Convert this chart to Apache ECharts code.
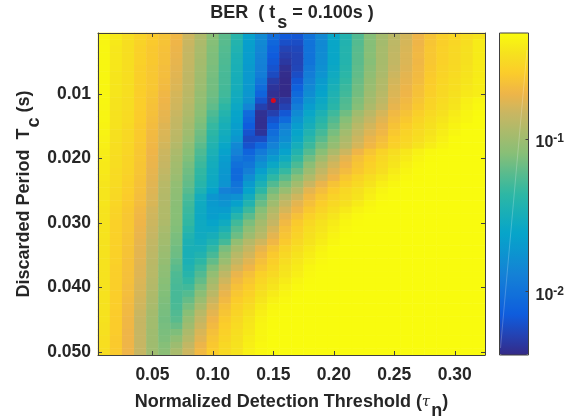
<!DOCTYPE html>
<html>
<head>
<meta charset="utf-8">
<style>html,body{margin:0;padding:0;background:#fff}#c{width:581px;height:417px}</style>
<script src="https://cdn.jsdelivr.net/npm/echarts@6/dist/echarts.min.js"></script>
</head>
<body>
<div id="c"></div>
<script>
// Normalized detection threshold (columns) and discarded period (rows)
const tauValues = ['0.01','0.02','0.03','0.04','0.05','0.06','0.07','0.08','0.09','0.10','0.11','0.12','0.13','0.14','0.15','0.16','0.17','0.18','0.19','0.20','0.21','0.22','0.23','0.24','0.25','0.26','0.27','0.28','0.29','0.30','0.31','0.32'];
const tcValues = ['0.001','0.002','0.003','0.004','0.005','0.006','0.007','0.008','0.009','0.010','0.011','0.012','0.013','0.014','0.015','0.016','0.017','0.018','0.019','0.020','0.021','0.022','0.023','0.024','0.025','0.026','0.027','0.028','0.029','0.030','0.031','0.032','0.033','0.034','0.035','0.036','0.037','0.038','0.039','0.040','0.041','0.042','0.043','0.044','0.045','0.046','0.047','0.048','0.049','0.050'];
const tauTicks = ['0.05','0.10','0.15','0.20','0.25','0.30'];
const tcTicks = ['0.010','0.020','0.030','0.040','0.050'];
const tcTickLabels = ['0.01','0.020','0.030','0.040','0.050'];
const bestTau = '0.15';
const bestTc = '0.011';
const colorbarMin = 0.00385;
const colorbarMax = 0.494;
// BER in dB (10*log10 BER), one array per Tc row
const r01=[-3.4,-4.0,-4.6,-5.3,-5.8,-6.2,-6.9,-8.2,-9.4,-10.9,-12.2,-14.0,-16.5,-18.2,-20.4,-21.6,-21.8,-20.0,-18.3,-16.0,-14.3,-12.5,-11.0,-9.8,-8.9,-8.0,-7.0,-6.2,-5.5,-5.1,-4.7,-4.3];
const r02=[-3.4,-4.0,-4.6,-5.3,-5.8,-6.2,-7.0,-8.3,-9.5,-11.0,-12.3,-14.2,-16.6,-18.3,-20.8,-22.2,-22.3,-20.0,-18.3,-16.0,-14.3,-12.4,-11.0,-9.8,-8.8,-7.9,-7.0,-6.1,-5.5,-5.1,-4.6,-3.9];
const r03=[-3.3,-4.1,-4.6,-5.4,-5.9,-6.3,-7.1,-8.4,-9.6,-11.1,-12.4,-14.4,-16.7,-18.5,-21.2,-22.8,-22.6,-20.0,-18.2,-16.0,-14.2,-12.3,-11.0,-9.7,-8.7,-7.8,-6.9,-6.0,-5.4,-5.0,-4.5,-3.9];
const r04=[-3.3,-4.1,-4.6,-5.4,-5.9,-6.4,-7.2,-8.5,-9.7,-11.2,-12.5,-14.6,-16.8,-18.7,-21.5,-23.1,-22.8,-20.0,-18.1,-16.0,-14.2,-12.2,-10.9,-9.7,-8.6,-7.7,-6.8,-6.0,-5.4,-5.0,-4.5,-3.9];
const r05=[-3.3,-4.1,-4.6,-5.4,-5.9,-6.4,-7.3,-8.5,-9.8,-11.2,-12.6,-14.7,-16.9,-18.9,-21.7,-23.4,-22.8,-20.0,-18.0,-16.0,-14.2,-12.2,-11.0,-9.7,-8.6,-7.7,-6.9,-6.0,-5.4,-5.0,-4.5,-3.9];
const r06=[-3.3,-4.1,-4.6,-5.5,-6.0,-6.5,-7.4,-8.6,-9.9,-11.3,-12.7,-14.8,-17.0,-19.0,-22.0,-23.8,-22.7,-19.6,-17.8,-15.8,-14.0,-12.1,-10.8,-9.6,-8.4,-7.6,-6.8,-5.9,-5.3,-4.9,-4.4,-3.9];
const r07=[-3.3,-4.2,-4.6,-5.5,-6.0,-6.5,-7.5,-8.7,-10.0,-11.4,-12.8,-14.9,-17.1,-19.2,-22.4,-24.0,-22.3,-19.2,-17.5,-15.5,-13.8,-12.0,-10.6,-9.5,-8.2,-7.4,-6.7,-5.8,-5.2,-4.8,-4.3,-3.9];
const r08=[-3.3,-4.2,-4.6,-5.5,-6.0,-6.6,-7.6,-8.7,-10.1,-11.5,-12.8,-15.0,-17.1,-19.7,-23.2,-24.1,-21.8,-18.8,-17.0,-15.2,-13.5,-11.8,-10.4,-9.3,-8.0,-7.3,-6.6,-5.7,-5.1,-4.7,-4.2,-3.8];
const r09=[-3.3,-4.2,-4.6,-5.5,-6.0,-6.7,-7.7,-8.8,-10.2,-11.5,-12.9,-15.1,-17.2,-20.4,-23.6,-24.1,-21.2,-18.4,-16.6,-14.8,-13.2,-11.6,-10.2,-9.2,-7.8,-7.1,-6.4,-5.6,-5.0,-4.6,-4.1,-3.8];
const r10=[-3.3,-4.2,-4.6,-5.6,-6.1,-6.9,-7.9,-8.9,-10.4,-11.6,-13.0,-15.3,-17.3,-21.0,-23.8,-24.1,-20.6,-18.0,-16.3,-14.5,-13.0,-11.5,-10.0,-9.0,-7.7,-7.0,-6.3,-5.5,-5.0,-4.5,-4.0,-3.8];
const r11=[-3.3,-4.3,-4.7,-5.6,-6.2,-7.0,-8.0,-9.0,-10.5,-11.8,-13.3,-15.5,-17.6,-22.0,-23.9,-23.4,-20.0,-17.4,-15.8,-14.2,-12.6,-11.2,-9.8,-8.8,-7.5,-6.8,-6.1,-5.3,-4.8,-4.3,-3.7,-3.3];
const r12=[-3.4,-4.3,-4.7,-5.6,-6.3,-7.1,-8.1,-9.2,-10.7,-12.1,-13.7,-15.8,-18.6,-23.0,-23.9,-22.9,-19.2,-16.8,-15.4,-13.9,-12.4,-11.0,-9.5,-8.5,-7.3,-6.6,-5.9,-5.2,-4.7,-4.2,-3.6,-3.2];
const r13=[-3.4,-4.4,-4.8,-5.7,-6.4,-7.3,-8.3,-9.4,-10.9,-12.6,-14.2,-16.2,-20.5,-23.8,-23.0,-21.8,-18.2,-16.0,-14.6,-13.1,-11.6,-10.0,-8.9,-7.9,-6.8,-6.2,-5.5,-4.9,-4.5,-3.9,-3.4,-3.1];
const r14=[-3.4,-4.4,-4.8,-5.7,-6.5,-7.4,-8.5,-9.6,-11.1,-13.0,-14.6,-16.4,-21.0,-23.9,-22.0,-20.6,-17.5,-15.5,-14.0,-12.5,-11.0,-9.5,-8.4,-7.5,-6.5,-5.9,-5.2,-4.7,-4.2,-3.7,-3.3,-3.0];
const r15=[-3.5,-4.4,-4.9,-5.8,-6.6,-7.6,-8.6,-9.8,-11.3,-13.4,-14.9,-16.7,-21.5,-23.9,-21.2,-19.0,-16.8,-15.0,-13.5,-12.0,-10.5,-9.0,-8.0,-7.2,-6.2,-5.6,-5.0,-4.5,-4.0,-3.5,-3.1,-3.0];
const r16=[-3.5,-4.5,-5.0,-5.8,-6.7,-7.7,-8.8,-10.0,-11.6,-13.7,-15.2,-16.9,-22.0,-23.6,-20.4,-18.4,-16.2,-14.4,-12.9,-11.4,-9.9,-8.6,-7.6,-6.9,-5.9,-5.3,-4.8,-4.3,-3.8,-3.3,-3.0,-3.0];
const r17=[-3.6,-4.5,-5.0,-5.8,-6.8,-7.8,-8.9,-10.2,-11.8,-14.0,-15.5,-17.3,-22.4,-22.3,-19.7,-18.0,-15.8,-13.8,-12.3,-10.9,-9.5,-8.2,-7.2,-6.5,-5.6,-5.1,-4.6,-4.1,-3.6,-3.1,-3.0,-3.0];
const r18=[-3.7,-4.6,-5.1,-5.9,-6.9,-8.0,-9.2,-10.6,-12.2,-14.4,-16.0,-18.4,-22.0,-20.8,-18.8,-17.2,-15.1,-13.2,-11.6,-10.4,-9.1,-7.9,-6.9,-6.2,-5.4,-4.9,-4.3,-3.8,-3.4,-3.1,-3.0,-3.0];
const r19=[-3.8,-4.6,-5.1,-6.0,-7.0,-8.2,-9.5,-10.9,-12.6,-14.7,-16.4,-18.8,-21.0,-19.4,-18.0,-16.4,-14.3,-12.4,-10.9,-9.5,-8.2,-7.0,-6.1,-5.3,-4.7,-4.1,-3.6,-3.2,-3.1,-3.0,-3.0,-3.0];
const r20=[-3.9,-4.7,-5.2,-6.0,-7.1,-8.3,-9.7,-11.1,-12.9,-15.0,-16.8,-19.6,-20.3,-18.5,-17.0,-15.5,-13.5,-11.6,-10.0,-8.6,-7.4,-6.4,-5.7,-5.0,-4.4,-3.9,-3.4,-3.1,-3.0,-3.0,-3.0,-3.0];
const r21=[-4.0,-4.7,-5.2,-6.1,-7.2,-8.4,-9.9,-11.4,-13.2,-15.2,-17.0,-20.2,-19.7,-17.6,-15.9,-14.5,-12.7,-10.8,-9.2,-8.0,-7.0,-6.1,-5.4,-4.8,-4.2,-3.6,-3.2,-3.0,-3.0,-3.0,-3.0,-3.0];
const r22=[-4.0,-4.8,-5.3,-6.1,-7.3,-8.6,-10.0,-11.6,-13.5,-15.4,-17.2,-20.6,-19.0,-16.6,-14.8,-13.4,-11.8,-10.1,-8.6,-7.5,-6.6,-5.9,-5.2,-4.6,-3.9,-3.4,-3.1,-3.0,-3.0,-3.0,-3.0,-3.0];
const r23=[-4.1,-4.8,-5.4,-6.2,-7.4,-8.8,-10.2,-11.8,-13.7,-15.6,-17.3,-20.6,-18.0,-15.6,-13.6,-12.3,-10.9,-9.3,-8.0,-7.0,-6.0,-5.3,-4.7,-4.1,-3.6,-3.2,-3.1,-3.0,-3.0,-3.0,-3.0,-3.0];
const r24=[-4.2,-4.8,-5.5,-6.3,-7.5,-9.0,-10.5,-12.0,-14.0,-15.7,-17.5,-20.0,-17.0,-14.7,-12.5,-11.3,-9.9,-8.3,-7.2,-6.2,-5.5,-4.9,-4.3,-3.7,-3.3,-3.0,-3.0,-3.0,-3.0,-3.0,-3.0,-3.0];
const r25=[-4.2,-4.9,-5.6,-6.4,-7.6,-9.1,-10.6,-12.3,-14.5,-16.3,-18.9,-19.4,-16.3,-13.7,-11.5,-10.3,-9.0,-7.4,-6.5,-5.7,-5.0,-4.5,-3.9,-3.4,-3.1,-3.0,-3.0,-3.0,-3.0,-3.0,-3.0,-3.0];
const r26=[-4.2,-5.0,-5.7,-6.5,-7.7,-9.2,-10.7,-12.7,-15.2,-17.3,-18.0,-17.7,-15.3,-12.6,-10.7,-9.2,-8.1,-6.8,-6.0,-5.3,-4.8,-4.3,-3.7,-3.2,-3.1,-3.0,-3.0,-3.0,-3.0,-3.0,-3.0,-3.0];
const r27=[-4.2,-5.1,-5.8,-6.6,-7.8,-9.2,-10.8,-13.0,-15.5,-17.0,-17.5,-16.5,-14.3,-11.8,-10.0,-8.5,-7.4,-6.4,-5.6,-5.0,-4.5,-3.9,-3.4,-3.1,-3.0,-3.0,-3.0,-3.0,-3.0,-3.0,-3.0,-3.0];
const r28=[-4.3,-5.2,-5.9,-6.8,-8.0,-9.3,-10.9,-13.2,-15.6,-16.8,-16.9,-15.3,-13.2,-11.0,-9.3,-7.9,-6.9,-5.9,-5.2,-4.6,-4.0,-3.5,-3.2,-3.0,-3.0,-3.0,-3.0,-3.0,-3.0,-3.0,-3.0,-3.0];
const r29=[-4.3,-5.3,-6.0,-6.9,-8.1,-9.3,-10.9,-13.4,-15.7,-16.7,-16.2,-14.1,-12.2,-10.4,-8.8,-7.3,-6.3,-5.4,-4.8,-4.2,-3.6,-3.2,-3.0,-3.0,-3.0,-3.0,-3.0,-3.0,-3.0,-3.0,-3.0,-3.0];
const r30=[-4.3,-5.4,-6.0,-7.0,-8.2,-9.4,-11.0,-13.5,-15.6,-16.2,-15.5,-13.0,-11.3,-9.8,-8.4,-6.8,-5.8,-5.0,-4.4,-3.9,-3.3,-3.1,-3.0,-3.0,-3.0,-3.0,-3.0,-3.0,-3.0,-3.0,-3.0,-3.0];
const r31=[-4.3,-5.4,-6.0,-7.1,-8.3,-9.6,-11.1,-13.9,-15.6,-15.7,-14.6,-12.3,-10.7,-9.4,-7.9,-6.4,-5.5,-4.7,-4.2,-3.7,-3.2,-3.0,-3.0,-3.0,-3.0,-3.0,-3.0,-3.0,-3.0,-3.0,-3.0,-3.0];
const r32=[-4.3,-5.4,-6.1,-7.2,-8.4,-9.8,-11.3,-14.3,-15.4,-15.0,-13.7,-11.7,-10.1,-9.0,-7.4,-6.1,-5.3,-4.5,-4.0,-3.5,-3.1,-3.0,-3.0,-3.0,-3.0,-3.0,-3.0,-3.0,-3.0,-3.0,-3.0,-3.0];
const r33=[-4.4,-5.4,-6.1,-7.3,-8.6,-9.9,-11.4,-14.6,-15.2,-14.4,-12.9,-10.5,-9.1,-8.1,-6.9,-5.8,-5.0,-4.3,-3.8,-3.3,-3.0,-3.0,-3.0,-3.0,-3.0,-3.0,-3.0,-3.0,-3.0,-3.0,-3.0,-3.0];
const r34=[-4.4,-5.4,-6.2,-7.4,-8.7,-10.1,-11.6,-14.8,-14.8,-13.5,-11.4,-9.7,-8.5,-7.3,-6.2,-5.3,-4.6,-4.0,-3.5,-3.1,-3.0,-3.0,-3.0,-3.0,-3.0,-3.0,-3.0,-3.0,-3.0,-3.0,-3.0,-3.0];
const r35=[-4.4,-5.4,-6.2,-7.4,-8.8,-10.2,-11.7,-14.8,-14.3,-12.8,-10.8,-9.0,-8.0,-6.8,-5.8,-5.0,-4.3,-3.8,-3.3,-3.1,-3.0,-3.0,-3.0,-3.0,-3.0,-3.0,-3.0,-3.0,-3.0,-3.0,-3.0,-3.0];
const r36=[-4.4,-5.4,-6.3,-7.5,-8.9,-10.4,-12.0,-14.7,-13.7,-12.0,-10.2,-8.5,-7.5,-6.4,-5.5,-4.7,-4.1,-3.6,-3.2,-3.0,-3.0,-3.0,-3.0,-3.0,-3.0,-3.0,-3.0,-3.0,-3.0,-3.0,-3.0,-3.0];
const r37=[-4.4,-5.5,-6.3,-7.6,-9.0,-10.6,-12.3,-14.4,-13.1,-11.2,-9.4,-7.9,-7.0,-6.0,-5.2,-4.4,-3.9,-3.3,-3.1,-3.0,-3.0,-3.0,-3.0,-3.0,-3.0,-3.0,-3.0,-3.0,-3.0,-3.0,-3.0,-3.0];
const r38=[-4.4,-5.5,-6.4,-7.6,-9.0,-10.7,-12.6,-14.0,-12.5,-10.5,-8.7,-7.2,-6.4,-5.4,-4.9,-4.2,-3.7,-3.2,-3.0,-3.0,-3.0,-3.0,-3.0,-3.0,-3.0,-3.0,-3.0,-3.0,-3.0,-3.0,-3.0,-3.0];
const r39=[-4.4,-5.5,-6.4,-7.7,-9.1,-10.9,-12.7,-13.5,-12.0,-9.9,-8.1,-6.7,-6.0,-5.1,-4.5,-3.9,-3.4,-3.1,-3.0,-3.0,-3.0,-3.0,-3.0,-3.0,-3.0,-3.0,-3.0,-3.0,-3.0,-3.0,-3.0,-3.0];
const r40=[-4.4,-5.5,-6.5,-7.8,-9.2,-11.0,-12.8,-13.0,-11.4,-9.4,-7.6,-6.3,-5.7,-4.8,-4.2,-3.6,-3.2,-3.0,-3.0,-3.0,-3.0,-3.0,-3.0,-3.0,-3.0,-3.0,-3.0,-3.0,-3.0,-3.0,-3.0,-3.0];
const r41=[-4.4,-5.6,-6.5,-7.9,-9.4,-11.1,-12.8,-12.4,-10.8,-8.9,-7.2,-6.0,-5.4,-4.5,-3.9,-3.4,-3.1,-3.0,-3.0,-3.0,-3.0,-3.0,-3.0,-3.0,-3.0,-3.0,-3.0,-3.0,-3.0,-3.0,-3.0,-3.0];
const r42=[-4.4,-5.6,-6.6,-8.0,-9.5,-11.2,-12.8,-11.9,-10.2,-8.3,-6.8,-5.7,-5.1,-4.2,-3.6,-3.2,-3.0,-3.0,-3.0,-3.0,-3.0,-3.0,-3.0,-3.0,-3.0,-3.0,-3.0,-3.0,-3.0,-3.0,-3.0,-3.0];
const r43=[-4.4,-5.6,-6.7,-8.1,-9.6,-11.3,-12.7,-11.4,-9.6,-7.8,-6.4,-5.4,-4.8,-3.9,-3.3,-3.1,-3.0,-3.0,-3.0,-3.0,-3.0,-3.0,-3.0,-3.0,-3.0,-3.0,-3.0,-3.0,-3.0,-3.0,-3.0,-3.0];
const r44=[-4.4,-5.7,-6.8,-8.3,-9.8,-11.4,-12.5,-10.9,-9.0,-7.4,-6.1,-5.2,-4.5,-3.7,-3.2,-3.0,-3.0,-3.0,-3.0,-3.0,-3.0,-3.0,-3.0,-3.0,-3.0,-3.0,-3.0,-3.0,-3.0,-3.0,-3.0,-3.0];
const r45=[-4.4,-5.7,-6.9,-8.4,-9.9,-11.5,-12.3,-10.4,-8.6,-7.0,-5.8,-5.0,-4.2,-3.5,-3.1,-3.0,-3.0,-3.0,-3.0,-3.0,-3.0,-3.0,-3.0,-3.0,-3.0,-3.0,-3.0,-3.0,-3.0,-3.0,-3.0,-3.0];
const r46=[-4.5,-5.7,-6.9,-8.4,-9.9,-11.4,-11.8,-10.0,-8.2,-6.7,-5.6,-4.8,-4.1,-3.4,-3.1,-3.0,-3.0,-3.0,-3.0,-3.0,-3.0,-3.0,-3.0,-3.0,-3.0,-3.0,-3.0,-3.0,-3.0,-3.0,-3.0,-3.0];
const r47=[-4.5,-5.7,-7.0,-8.4,-10.0,-11.3,-11.2,-9.5,-7.8,-6.4,-5.4,-4.6,-4.0,-3.3,-3.0,-3.0,-3.0,-3.0,-3.0,-3.0,-3.0,-3.0,-3.0,-3.0,-3.0,-3.0,-3.0,-3.0,-3.0,-3.0,-3.0,-3.0];
const r48=[-4.6,-5.8,-7.0,-8.4,-10.0,-11.2,-10.6,-9.1,-7.5,-6.1,-5.2,-4.5,-3.8,-3.3,-3.0,-3.0,-3.0,-3.0,-3.0,-3.0,-3.0,-3.0,-3.0,-3.0,-3.0,-3.0,-3.0,-3.0,-3.0,-3.0,-3.0,-3.0];
const r49=[-4.6,-5.8,-7.0,-8.4,-10.0,-11.0,-10.1,-8.6,-7.1,-5.9,-5.0,-4.4,-3.7,-3.2,-3.0,-3.0,-3.0,-3.0,-3.0,-3.0,-3.0,-3.0,-3.0,-3.0,-3.0,-3.0,-3.0,-3.0,-3.0,-3.0,-3.0,-3.0];
const r50=[-4.7,-5.8,-7.0,-8.4,-10.0,-10.8,-9.6,-8.2,-6.8,-5.7,-4.9,-4.3,-3.6,-3.2,-3.0,-3.0,-3.0,-3.0,-3.0,-3.0,-3.0,-3.0,-3.0,-3.0,-3.0,-3.0,-3.0,-3.0,-3.0,-3.0,-3.0,-3.0];
const rows=[r01,r02,r03,r04,r05,r06,r07,r08,r09,r10,r11,r12,r13,r14,r15,r16,r17,r18,r19,r20,r21,r22,r23,r24,r25,r26,r27,r28,r29,r30,r31,r32,r33,r34,r35,r36,r37,r38,r39,r40,r41,r42,r43,r44,r45,r46,r47,r48,r49,r50];

const parula=['#352a87','#2343b4','#0f5cdd','#1170da','#1481d6','#0d93d0','#06a4ca','#18aeb8','#2eb7a4','#58bb8e','#87bf77','#a8bb6c','#c8b662','#efb548','#fbcc2b','#f6e21e','#f9fb0e'];
const cells=[];
rows.forEach((row,j)=>row.forEach((v,i)=>cells.push([i,j,v])));

const FONT='"Liberation Sans", Arial, sans-serif';
const INK='#262626';
const FS=17.5;
const NS=18;
const chart=echarts.init(document.getElementById('c'),null,{renderer:'canvas'});
const line={show:true,onZero:false,lineStyle:{color:'#404040',width:1}};
const tauShown=(i,v)=>tauTicks.includes(v);
const tcShown=(i,v)=>tcTicks.includes(v);
const tick=(fn)=>({show:true,inside:true,length:4,alignWithLabel:true,interval:fn,lineStyle:{color:'#404040',width:1}});
chart.setOption({
  animation:false,
  backgroundColor:'#fff',
  title:{
    text:'{b|BER  ( t}{s|s}{b| = 0.100s )}',left:287,top:-11,textAlign:'center',
    textStyle:{rich:{
      b:{fontFamily:FONT,fontWeight:'bold',fontSize:NS,color:INK},
      s:{fontFamily:FONT,fontWeight:'bold',fontSize:NS,color:INK,padding:[20,0,0,2]}
    }}
  },
  grid:[
    {left:98,top:33,width:387,height:322,outerBoundsMode:'none',containLabel:false},
    {left:499.5,top:33,width:29,height:322,outerBoundsMode:'none',containLabel:false,show:true,borderColor:'#404040',borderWidth:1,backgroundColor:'transparent',z:6}
  ],
  xAxis:[
    {type:'category',gridIndex:0,data:tauValues,position:'bottom',z:5,axisLine:line,axisTick:tick(tauShown),splitLine:{show:false},
     axisLabel:{interval:tauShown,margin:11,color:INK,fontFamily:FONT,fontWeight:'bold',fontSize:FS},
     name:'{b|Normalized Detection Threshold (}{g|τ}{s|n}{b|)}',nameLocation:'middle',nameGap:29,
     nameTextStyle:{rich:{
       b:{fontFamily:FONT,fontWeight:'bold',fontSize:NS,color:INK},
       g:{fontFamily:'"DejaVu Serif", serif',fontStyle:'italic',fontSize:15,color:INK},
       s:{fontFamily:FONT,fontWeight:'bold',fontSize:NS,color:INK,padding:[18,0,0,1]}
     }}},
    {type:'category',gridIndex:0,data:tauValues,position:'top',z:5,axisLine:line,axisTick:tick(tauShown),axisLabel:{show:false},splitLine:{show:false}},
    {type:'category',gridIndex:1,data:[''],axisLine:{show:false},axisTick:{show:false},axisLabel:{show:false},splitLine:{show:false}}
  ],
  yAxis:[
    {type:'category',gridIndex:0,data:tcValues,inverse:true,position:'left',z:5,axisLine:line,axisTick:tick(tcShown),splitLine:{show:false},
     axisLabel:{interval:tcShown,margin:7,color:INK,fontFamily:FONT,fontWeight:'bold',fontSize:FS,
       formatter:(v)=>tcTickLabels[tcTicks.indexOf(v)]},
     name:'{b|Discarded Period  T}{s|c}{b| (s)}',nameLocation:'middle',nameGap:55,nameMoveOverlap:false,
     nameTextStyle:{rich:{
       b:{fontFamily:FONT,fontWeight:'bold',fontSize:NS,color:INK},
       s:{fontFamily:FONT,fontWeight:'bold',fontSize:NS,color:INK,padding:[20,0,0,1]}
     }}},
    {type:'category',gridIndex:0,data:tcValues,inverse:true,position:'right',z:5,axisLine:line,axisTick:tick(tcShown),axisLabel:{show:false},splitLine:{show:false}},
    {type:'log',gridIndex:1,logBase:10,min:colorbarMin,max:colorbarMax,position:'right',z:7,
     axisLine:{show:false},splitLine:{show:false},minorTick:{show:false},
     axisTick:{show:true,inside:true,length:3,lineStyle:{color:'#404040',width:1}},
     axisLabel:{show:true,margin:7,showMinLabel:false,showMaxLabel:false,
       formatter:(v)=>{const e=Math.round(Math.log10(v));return '{b|10}{e|'+e+'}';},
       rich:{b:{fontFamily:FONT,fontWeight:'bold',fontSize:16,color:INK,padding:[7,0,0,0]},
             e:{fontFamily:FONT,fontWeight:'bold',fontSize:12,color:INK}}}}
  ],
  visualMap:{
    type:'continuous',seriesIndex:0,min:-24.15,max:-3.06,calculable:false,realtime:false,hoverLink:false,
    left:499.5,top:33,itemWidth:29,itemHeight:322,padding:0,text:null,showLabel:false,
    inRange:{color:parula},textStyle:{color:'transparent',fontSize:1}
  },
  graphic:[{type:'line',z:100,silent:true,shape:{x1:527,y1:50,x2:500.5,y2:348},style:{stroke:'rgba(255,255,255,0.22)',lineWidth:1}}],
  series:[
    {type:'heatmap',xAxisIndex:0,yAxisIndex:0,data:cells,progressive:0,itemStyle:{borderWidth:0},emphasis:{disabled:true},z:2},
    {type:'scatter',xAxisIndex:0,yAxisIndex:0,data:[[tauValues.indexOf(bestTau),tcValues.indexOf(bestTc)]],symbolSize:5,itemStyle:{color:'#ff0000'},z:4,silent:true}
  ]
});
</script>
</body>
</html>
